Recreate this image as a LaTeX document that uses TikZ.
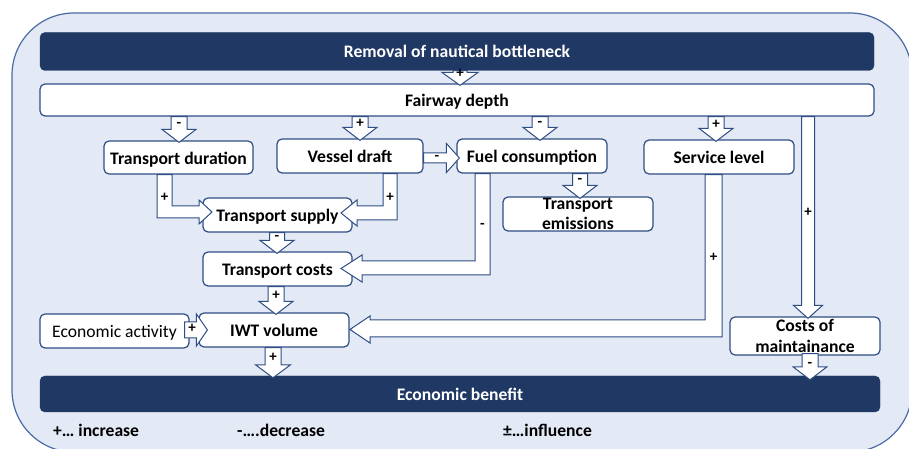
\documentclass[tikz,border=0pt]{standalone}
\usepackage{fontspec}
\setmainfont{Carlito}
\usetikzlibrary{calc}
\definecolor{navy}{HTML}{203864}
\definecolor{edge}{HTML}{2F4D85}
\definecolor{bgblue}{HTML}{E3E9F5}
\definecolor{outerc}{HTML}{4A6AA6}
\tikzset{
 box/.style={draw=edge, line width=1.2pt, fill=white, rounded corners=5pt, inner sep=0pt, align=center, font=\fontsize{17.6}{20.5}\selectfont\bfseries},
 oneline/.style={text height=17pt, text depth=3.8pt},
 bar/.style={fill=navy, draw=navy, rounded corners=5pt, inner sep=0pt, text=white, font=\fontsize{17.6}{20}\selectfont\bfseries},
 blk/.style={draw=edge, line width=1pt, fill=white, line join=miter},
 sgn/.style={font=\fontsize{15}{15}\selectfont\bfseries, inner sep=0pt},
 legend/.style={font=\fontsize{17.6}{20}\selectfont\bfseries, anchor=west, inner sep=0pt}
}
% x, shaft half width, head half width, source anchor, target anchor, label
\newcommand\DArrow[6]{%
 \draw[blk] let \p1=(#4), \p2=(#5) in
 (#1-#2,\y1) -- (#1-#2,\y2+11) -- (#1-#3,\y2+11) -- (#1,\y2-2) -- (#1+#3,\y2+11) -- (#1+#2,\y2+11) -- (#1+#2,\y1) -- cycle
 node[sgn] at (#1,{(\y1+\y2+11)/2-1.5}) {#6};}
\begin{document}
\begin{tikzpicture}[x=1pt,y=1pt]
\useasboundingbox (0,0) rectangle (909,449);
\clip (0,0) rectangle (909,449);
\draw[outerc, line width=1.2pt, fill=bgblue, rounded corners=62pt] (12,436) rectangle (912,-3);

\node[bar, minimum width=834pt, minimum height=38pt] (rb) at (457,397.5) {Removal of nautical bottleneck};
\node[box, oneline, minimum width=834pt, minimum height=32pt] (fd) at (457,349) {Fairway depth};
\node[box, oneline, minimum width=149pt, minimum height=33pt] (td) at (178.5,291.5) {Transport duration};
\node[box, oneline, minimum width=146pt, minimum height=34pt] (vd) at (350,293) {Vessel draft};
\node[box, oneline, minimum width=150pt, minimum height=34pt] (fc) at (532,293) {Fuel consumption};
\node[box, oneline, minimum width=150pt, minimum height=34pt] (sl) at (719,292) {Service level};
\node[box, oneline, minimum width=149pt, minimum height=34pt] (ts) at (277.5,234) {Transport supply};
\node[box, minimum width=150pt, minimum height=34pt] (te) at (578,235) {Transport\\emissions};
\node[box, oneline, minimum width=149pt, minimum height=34pt] (tc) at (277.5,180) {Transport costs};
\node[box, oneline, minimum width=150pt, minimum height=34pt] (iwt) at (274,119) {IWT volume};
\node[box, oneline, font=\fontsize{17.6}{20}\selectfont, minimum width=149pt, minimum height=34pt] (ea) at (114.5,118) {Economic activity};
\node[box, minimum width=150pt, minimum height=38pt] (cm) at (805,113) {Costs of\\maintainance};
\node[bar, minimum width=840pt, minimum height=36pt] (eb) at (460,55) {Economic benefit};

% straight down arrows
\DArrow{460}{7}{18}{rb.south}{fd.north}{+}
\DArrow{179}{8}{17}{fd.south}{td.north}{-}
\DArrow{360}{8}{17}{fd.south}{vd.north}{+}
\DArrow{540}{8}{17}{fd.south}{fc.north}{-}
\DArrow{716}{8}{17}{fd.south}{sl.north}{+}
\DArrow{580}{7.5}{17}{fc.south}{te.north}{-}
\DArrow{277}{7.5}{17}{ts.south}{tc.north}{-}
\DArrow{276}{8}{17}{tc.south}{iwt.north}{+}
\DArrow{273}{8}{17.5}{iwt.south}{eb.north}{+}
\DArrow{808}{6.5}{14.5}{fd.south}{cm.north}{+}
\draw[blk] let \p1=(cm.south), \p2=(eb.north) in
 (802,\y1+2) -- (802,\y2+9) -- (793,\y2+9) -- (810,\y2-4) -- (827,\y2+9) -- (818,\y2+9) -- (818,\y1+2) -- cycle
 node[sgn] at (810,\y2+11) {-};

% horizontal arrows
\draw[blk] let \p1=(vd.east), \p2=(fc.west) in
 (\x1,296) -- (\x2-10,296) -- (\x2-10,305.5) -- (\x2+3,291) -- (\x2-10,276.5) -- (\x2-10,286) -- (\x1,286) -- cycle
 node[sgn] at (437,291) {-};
\draw[blk] let \p1=(ea.east), \p2=(iwt.west) in
 (\x1-5,127) -- (\x2-2,127) -- (\x2-2,135) -- (\x2+9,119) -- (\x2-2,103) -- (\x2-2,111) -- (\x1-5,111) -- cycle
 node[sgn] at (192,121) {+};

% elbow arrows
\draw[blk] let \p1=(td.south) in
 (157,\y1) -- (157,231) -- (199,231) -- (199,225) -- (212,237) -- (199,249) -- (199,243) -- (172,243) -- (172,\y1) -- cycle
 node[sgn] at (164.5,252) {+};
\draw[blk] let \p1=(vd.south) in
 (397,\y1) -- (397,229) -- (357,229) -- (357,223) -- (341,236) -- (357,249) -- (357,243) -- (383,243) -- (383,\y1) -- cycle
 node[sgn] at (390,252) {+};
\draw[blk] let \p1=(fc.south) in
 (490,\y1) -- (490,174) -- (362,174) -- (362,167) -- (341,180.5) -- (362,194) -- (362,188) -- (475,188) -- (475,\y1) -- cycle
 node[sgn] at (482.5,223) {-};
\draw[blk] let \p1=(sl.south) in
 (722,\y1) -- (722,112) -- (370,112) -- (370,106) -- (350,119.5) -- (370,133) -- (370,129) -- (705,129) -- (705,\y1) -- cycle
 node[sgn] at (713.5,192) {+};

% legend
\node[legend] (l1) at (53,19) {+… increase};
\node[legend] (l2) at (237,19) {-….decrease};
\node[legend] (l3) at (503,19) {±…influence};
\end{tikzpicture}
\end{document}
